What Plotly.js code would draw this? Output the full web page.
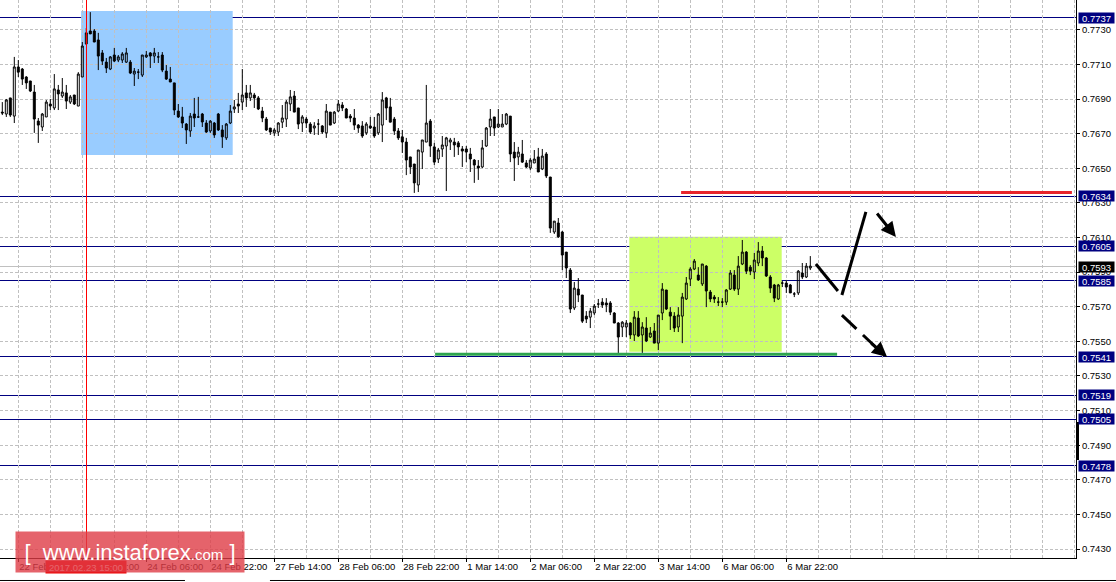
<!DOCTYPE html>
<html><head><meta charset="utf-8">
<script src="https://cdn.plot.ly/plotly-3.0.1.min.js"></script>
<style>html,body{margin:0;padding:0;background:#fff;}#chart{width:1116px;height:582px;}</style>
</head><body><div id="chart"></div>
<script>
// Hourly candles, 22 Feb 18:00 .. 6 Mar ~23:00 (index = bar number)
const open = [
0.76825,0.76814,0.76907,0.76802,0.77086,0.77074,0.77028,0.77005,0.76941,0.76773,
0.76739,0.76797,0.76872,0.76849,0.76953,0.76918,0.76936,0.76883,0.76924,0.76860,
0.77028,0.77219,0.77294,0.77294,0.77242,0.77167,0.77114,0.77074,0.77155,0.77126,
0.77126,0.77114,0.77114,0.77045,0.77056,0.77039,0.77144,0.77167,0.77149,0.77144,
0.77155,0.77062,0.77016,0.76994,0.76831,0.76797,0.76756,0.76716,0.76814,0.76797,
0.76814,0.76762,0.76716,0.76762,0.76814,0.76722,0.76676,0.76762,0.76843,0.76872,
0.76883,0.76936,0.76907,0.76924,0.76907,0.76831,0.76785,0.76733,0.76705,0.76710,
0.76767,0.76785,0.76872,0.76918,0.76849,0.76762,0.76785,0.76756,0.76733,0.76756,
0.76745,0.76705,0.76825,0.76762,0.76831,0.76866,0.76843,0.76802,0.76791,0.76750,
0.76745,0.76705,0.76745,0.76739,0.76705,0.76750,0.76907,0.76855,0.76785,0.76716,
0.76682,0.76652,0.76566,0.76525,0.76404,0.76594,0.76652,0.76773,0.76624,0.76554,
0.76612,0.76629,0.76652,0.76652,0.76647,0.76612,0.76612,0.76583,0.76548,0.76513,
0.76508,0.76629,0.76739,0.76797,0.76739,0.76739,0.76756,0.76802,0.76594,0.76566,
0.76583,0.76531,0.76502,0.76531,0.76566,0.76496,0.76583,0.76450,0.76132,0.76184,
0.76132,0.76016,0.75912,0.75693,0.75802,0.75768,0.75646,0.75640,0.75664,0.75716,
0.75727,0.75722,0.75722,0.75664,0.75606,0.75583,0.75583,0.75606,0.75537,0.75635,
0.75537,0.75577,0.75525,0.75560,0.75490,0.75664,0.75797,0.75669,0.75646,0.75583,
0.75646,0.75745,0.75860,0.75918,0.75883,0.75832,0.75935,0.75785,0.75756,0.75727,
0.75727,0.75727,0.75802,0.75883,0.75802,0.75947,0.76016,0.75929,0.75901,0.75953,
0.76022,0.75982,0.75872,0.75826,0.75745,0.75837,0.75837,0.75826,0.75774,0.75780,
0.75895,0.75872,0.75924];
const high = [
0.76883,0.76901,0.76907,0.77144,0.77126,0.77080,0.77033,0.77005,0.76982,0.76791,
0.76820,0.76895,0.76901,0.77045,0.76982,0.77022,0.76982,0.76924,0.76924,0.77056,
0.77230,0.77311,0.77403,0.77305,0.77283,0.77184,0.77138,0.77149,0.77196,0.77155,
0.77172,0.77196,0.77126,0.77080,0.77074,0.77155,0.77178,0.77172,0.77196,0.77172,
0.77172,0.77097,0.77086,0.76994,0.76872,0.76855,0.76762,0.76820,0.76907,0.76913,
0.76820,0.76779,0.76779,0.76768,0.76820,0.76750,0.76762,0.76866,0.76895,0.76936,
0.77074,0.76982,0.76982,0.76936,0.76918,0.76855,0.76797,0.76733,0.76733,0.76767,
0.76866,0.76895,0.76953,0.76947,0.76849,0.76808,0.76797,0.76767,0.76767,0.76785,
0.76750,0.76872,0.76825,0.76831,0.76895,0.76883,0.76849,0.76814,0.76843,0.76756,
0.76773,0.76767,0.76797,0.76797,0.76820,0.76941,0.76913,0.76907,0.76797,0.76733,
0.76722,0.76676,0.76566,0.76525,0.76606,0.76664,0.76982,0.76785,0.76647,0.76618,
0.76687,0.76682,0.76676,0.76676,0.76658,0.76629,0.76629,0.76618,0.76554,0.76548,
0.76664,0.76739,0.76843,0.76797,0.76843,0.76814,0.76820,0.76802,0.76652,0.76624,
0.76664,0.76548,0.76560,0.76606,0.76618,0.76612,0.76594,0.76450,0.76195,0.76213,
0.76138,0.76016,0.75924,0.75843,0.75866,0.75768,0.75675,0.75693,0.75716,0.75745,
0.75750,0.75750,0.75733,0.75669,0.75611,0.75617,0.75623,0.75611,0.75675,0.75675,
0.75611,0.75640,0.75583,0.75606,0.75652,0.75837,0.75797,0.75698,0.75669,0.75698,
0.75780,0.75872,0.75929,0.75976,0.75929,0.75947,0.75941,0.75797,0.75768,0.75756,
0.75750,0.75802,0.75912,0.75912,0.75993,0.76086,0.76022,0.75941,0.76011,0.76074,
0.76051,0.75987,0.75883,0.75832,0.75832,0.75849,0.75855,0.75832,0.75785,0.75912,
0.75953,0.75953,0.75993];
const low = [
0.76808,0.76797,0.76797,0.76762,0.77028,0.76982,0.76959,0.76941,0.76705,0.76647,
0.76716,0.76797,0.76837,0.76837,0.76837,0.76907,0.76843,0.76872,0.76866,0.76860,
0.77028,0.77213,0.77277,0.77230,0.77068,0.77097,0.77051,0.77068,0.77114,0.77114,
0.77109,0.77109,0.77045,0.76976,0.77016,0.77028,0.77138,0.77080,0.77109,0.77109,
0.77056,0.77011,0.76999,0.76808,0.76791,0.76733,0.76641,0.76682,0.76739,0.76791,
0.76739,0.76705,0.76705,0.76676,0.76716,0.76618,0.76664,0.76756,0.76820,0.76820,
0.76837,0.76855,0.76889,0.76849,0.76837,0.76767,0.76716,0.76693,0.76687,0.76687,
0.76733,0.76739,0.76831,0.76825,0.76727,0.76710,0.76733,0.76699,0.76693,0.76693,
0.76699,0.76676,0.76750,0.76756,0.76825,0.76831,0.76791,0.76767,0.76722,0.76705,
0.76676,0.76693,0.76727,0.76676,0.76693,0.76652,0.76779,0.76767,0.76693,0.76664,
0.76589,0.76461,0.76467,0.76358,0.76363,0.76496,0.76652,0.76566,0.76519,0.76531,
0.76566,0.76369,0.76606,0.76566,0.76577,0.76508,0.76536,0.76479,0.76416,0.76433,
0.76502,0.76624,0.76687,0.76687,0.76733,0.76739,0.76750,0.76536,0.76427,0.76519,
0.76531,0.76502,0.76490,0.76531,0.76479,0.76490,0.76444,0.76127,0.76121,0.76098,
0.75912,0.75866,0.75664,0.75681,0.75727,0.75606,0.75606,0.75577,0.75652,0.75693,
0.75693,0.75669,0.75652,0.75606,0.75433,0.75525,0.75525,0.75514,0.75502,0.75525,
0.75433,0.75496,0.75519,0.75490,0.75450,0.75623,0.75681,0.75566,0.75554,0.75554,
0.75490,0.75739,0.75820,0.75912,0.75849,0.75820,0.75698,0.75727,0.75722,0.75704,
0.75698,0.75710,0.75797,0.75791,0.75768,0.75941,0.75889,0.75883,0.75860,0.75935,
0.75935,0.75872,0.75780,0.75727,0.75739,0.75814,0.75780,0.75780,0.75756,0.75768,
0.75860,0.75866,0.75912];
const close = [
0.76820,0.76895,0.76808,0.77086,0.77056,0.77016,0.76994,0.76947,0.76785,0.76750,
0.76814,0.76883,0.76860,0.76959,0.76930,0.76941,0.76889,0.76913,0.76872,0.77045,
0.77207,0.77283,0.77277,0.77230,0.77149,0.77120,0.77080,0.77144,0.77120,0.77144,
0.77161,0.77167,0.77051,0.77062,0.77056,0.77155,0.77155,0.77149,0.77167,0.77144,
0.77068,0.77016,0.76999,0.76837,0.76797,0.76762,0.76722,0.76802,0.76791,0.76797,
0.76768,0.76710,0.76773,0.76693,0.76722,0.76682,0.76756,0.76831,0.76855,0.76860,
0.76924,0.76907,0.76936,0.76907,0.76843,0.76791,0.76722,0.76710,0.76722,0.76762,
0.76791,0.76883,0.76913,0.76825,0.76756,0.76797,0.76762,0.76710,0.76745,0.76756,
0.76710,0.76831,0.76750,0.76825,0.76872,0.76849,0.76791,0.76791,0.76750,0.76733,
0.76687,0.76756,0.76733,0.76687,0.76814,0.76895,0.76849,0.76767,0.76716,0.76676,
0.76652,0.76548,0.76508,0.76416,0.76606,0.76664,0.76762,0.76629,0.76536,0.76606,
0.76635,0.76676,0.76664,0.76635,0.76624,0.76600,0.76594,0.76554,0.76519,0.76502,
0.76618,0.76733,0.76785,0.76733,0.76756,0.76756,0.76814,0.76583,0.76560,0.76594,
0.76536,0.76508,0.76548,0.76554,0.76479,0.76571,0.76456,0.76155,0.76195,0.76104,
0.75999,0.75924,0.75687,0.75808,0.75768,0.75617,0.75629,0.75675,0.75704,0.75716,
0.75710,0.75710,0.75669,0.75606,0.75525,0.75611,0.75606,0.75537,0.75640,0.75531,
0.75583,0.75502,0.75548,0.75490,0.75652,0.75802,0.75687,0.75646,0.75577,0.75652,
0.75756,0.75837,0.75918,0.75964,0.75855,0.75947,0.75791,0.75745,0.75745,0.75727,
0.75727,0.75797,0.75895,0.75802,0.75935,0.76016,0.75906,0.75906,0.75970,0.76022,
0.75982,0.75878,0.75808,0.75750,0.75826,0.75837,0.75814,0.75780,0.75774,0.75906,
0.75872,0.75935,0.75935];

const timeTickIndex = [4,20,36,52,68,84,100,116,132,148,164,180,196];
const timeTickLabels = ["22 Feb 22:00","23 Feb 14:00","24 Feb 06:00","24 Feb 22:00","27 Feb 14:00",
  "28 Feb 06:00","28 Feb 22:00","1 Mar 14:00","2 Mar 06:00","2 Mar 22:00","3 Mar 14:00","6 Mar 06:00","6 Mar 22:00"];
const levelPrices = [0.7737,0.7634,0.7605,0.7585,0.7541,0.7519,0.7505,0.7478];
const currentPrice = 0.7593;
const markedBar = 21;
const markedTime = "2017.02.23 15:00";
const resistancePrice = 0.7636;
const supportPrice = 0.75426;

const barIndex = open.map((_, i) => i);
const FONT = 'Liberation Sans, Arial, sans-serif';
const GRID = '#c0c0c0';

const shapes = [];
const crisp = [];
// highlighted zones (drawn behind grid)
shapes.push({type:'rect', layer:'below', xref:'x', yref:'y', x0:19.7, x1:57.6, y0:0.76577, y1:0.77409, fillcolor:'#99ccff', line:{width:0}});
shapes.push({type:'rect', layer:'below', xref:'x', yref:'y', x0:156.75, x1:194.85, y0:0.75440, y1:0.76105, fillcolor:'#ccff66', line:{width:0}});
// level lines
levelPrices.forEach(p => { crisp.push(shapes.length); shapes.push({type:'line', layer:'between', xref:'paper', yref:'y', x0:0, x1:1, y0:p, y1:p, line:{color:'#000080', width:1}}); });
crisp.push(shapes.length);
shapes.push({type:'line', layer:'between', xref:'paper', yref:'y', x0:0, x1:1, y0:currentPrice, y1:currentPrice, line:{color:GRID, width:1}});
// marked bar vertical line
crisp.push(shapes.length);
shapes.push({type:'line', layer:'above', xref:'x', yref:'paper', x0:markedBar, x1:markedBar, y0:0, y1:1, line:{color:'#ff0000', width:1}});
// resistance / support marker lines
shapes.push({type:'line', layer:'above', xref:'x', yref:'y', x0:169.7, x1:267.4, y0:resistancePrice, y1:resistancePrice, line:{color:'#e8242c', width:3}});
shapes.push({type:'line', layer:'above', xref:'x', yref:'y', x0:108.2, x1:208.7, y0:supportPrice, y1:supportPrice, line:{color:'#2da44e', width:3}});
// forecast path
shapes.push({type:'line', layer:'above', xref:'x', yref:'y', x0:203.4, x1:208.9, y0:0.75947, y1:0.75791, line:{color:'#000', width:3}});
shapes.push({type:'line', layer:'above', xref:'x', yref:'y', x0:209.9, x1:215.9, y0:0.75768, y1:0.76248, line:{color:'#000', width:3}});
shapes.push({type:'line', layer:'above', xref:'x', yref:'y', x0:209.9, x1:219.4, y0:0.75652, y1:0.75444, line:{color:'#000', width:3, dash:'20px,9px'}});
// axis marker bar and bottom tab lines
shapes.push({type:'rect', xref:'paper', yref:'paper', x0:1.0, x1:1.0028, y0:0.1756, y1:0.2437, fillcolor:'#000', line:{width:0}});
shapes.push({type:'line', xref:'paper', yref:'paper', x0:0, x1:0.1719, y0:-0.0403, y1:-0.0403, line:{color:'#000', width:1}});
shapes.push({type:'line', xref:'paper', yref:'paper', x0:0.2509, x1:1.04, y0:-0.0403, y1:-0.0403, line:{color:'#000', width:1}});

const annotations = [];
levelPrices.forEach(p => annotations.push({xref:'paper', yref:'y', x:1, y:p, xanchor:'left', yanchor:'middle', xshift:2,
  text:p.toFixed(4), showarrow:false, bgcolor:'#000080', font:{family:FONT, size:9.5, color:'#fff'}, width:35, height:10, borderpad:0}));
annotations.push({xref:'paper', yref:'y', x:1, y:currentPrice, xanchor:'left', yanchor:'middle', xshift:2,
  text:currentPrice.toFixed(4), showarrow:false, bgcolor:'#000', font:{family:FONT, size:9.5, color:'#fff'}, width:35, height:10, borderpad:0});
// forecast arrow heads
annotations.push({xref:'x', yref:'y', axref:'x', ayref:'y', x:223.4, y:0.76103, ax:218.4, ay:0.76248, text:'', showarrow:true, arrowhead:2, arrowsize:1, arrowwidth:3, arrowcolor:'#000', standoff:0});
annotations.push({xref:'x', yref:'y', axref:'x', ayref:'y', x:221.2, y:0.75410, ax:216.9, ay:0.75496, text:'', showarrow:true, arrowhead:2, arrowsize:1, arrowwidth:3, arrowcolor:'#000', standoff:0});
// marked time label
annotations.push({xref:'x', yref:'paper', x:markedBar, y:0, yshift:-9, xanchor:'center', yanchor:'middle', text:markedTime, showarrow:false,
  bgcolor:'#ee0000', font:{family:FONT, size:9.5, color:'#fff'}, width:80, height:12, borderpad:0});
// watermark
annotations.push({xref:'paper', yref:'paper', x:15/1076, y:27/558, xanchor:'left', yanchor:'top', showarrow:false,
  text:'[&nbsp; www.instaforex<span style="font-size:15px">.com</span> ]', bgcolor:'rgba(222,60,70,0.8)',
  font:{family:FONT, size:22, color:'#fff'}, width:228, height:40, borderpad:0});

const trace = {type:'candlestick', x:barIndex, open:open, high:high, low:low, close:close,
  increasing:{line:{color:'#000', width:1}, fillcolor:'rgba(255,255,255,0)'},
  decreasing:{line:{color:'#000', width:1}, fillcolor:'#000'},
  whiskerwidth:0, showlegend:false, hoverinfo:'skip'};

const layout = {
  width:1116, height:582, margin:{l:0, r:40, t:0, b:24, pad:0},
  paper_bgcolor:'#fff', plot_bgcolor:'#fff', showlegend:false,
  xaxis:{range:[-0.575, 268.425], tickmode:'array', tickvals:timeTickIndex, ticktext:timeTickLabels,
    tickangle:0, automargin:false,
    ticks:'outside', ticklen:3, tickcolor:'#000', showline:true, linecolor:'#000', linewidth:1,
    showgrid:true, gridcolor:GRID, griddash:'3px,2px', gridwidth:1, zeroline:false,
    ticklabelposition:'outside right', tickfont:{family:FONT, size:9.5, color:'#000'},
    rangeslider:{visible:false}, fixedrange:true,
    minor:{tick0:4, dtick:8, showgrid:true, gridcolor:GRID, griddash:'3px,2px', gridwidth:1, ticks:''}},
  yaxis:{side:'right', range:[0.74248, 0.77473], tick0:0.743, dtick:0.002, tickformat:'.4f', automargin:false,
    ticks:'outside', ticklen:3, tickcolor:'#000', showline:true, linecolor:'#000', linewidth:1,
    showgrid:true, gridcolor:GRID, griddash:'3px,2px', gridwidth:1, zeroline:false,
    tickfont:{family:FONT, size:9.5, color:'#000'}, fixedrange:true},
  shapes:shapes, annotations:annotations
};
Plotly.newPlot('chart', [trace], layout, {staticPlot:true, displayModeBar:false}).then(gd => {
  gd.querySelectorAll('.shapelayer path').forEach(p => {
    const i = Number(p.getAttribute('data-index'));
    if (crisp.indexOf(i) >= 0) p.style.shapeRendering = 'crispEdges';
  });
});
</script></body></html>
